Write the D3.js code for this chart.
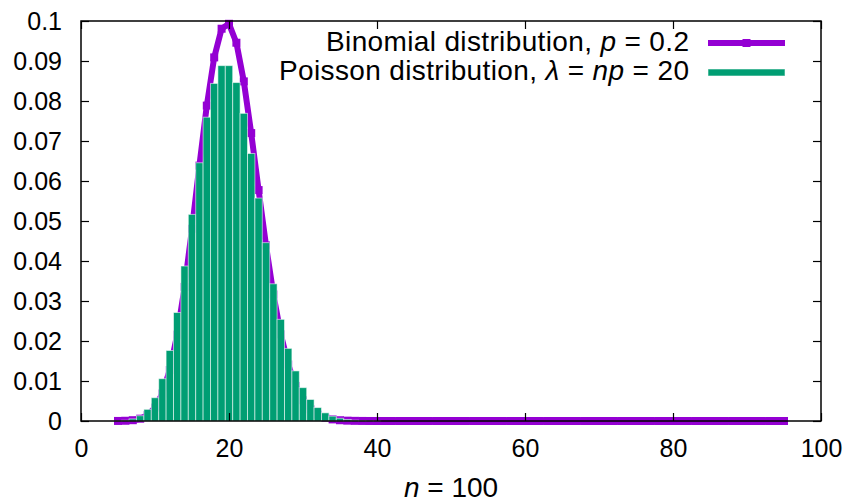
<!DOCTYPE html>
<html><head><meta charset="utf-8">
<script src="https://cdn.jsdelivr.net/npm/d3@7"></script>
<style>
html,body{margin:0;padding:0;background:#fff;}
svg{display:block;font-family:"Liberation Sans",Arial,sans-serif;}
</style></head>
<body><svg id="c" width="844" height="504"></svg>
<script>
// ---- data ----
const binomK0 = 5; // first k of binomial series
const binomial = [0.0000150,0.0000593,0.000199,0.000578,0.00148,0.00336,0.00688,0.01275,0.02158,0.03353,
  0.04806,0.06383,0.07885,0.09090,0.09807,0.09930,0.09457,0.08490,0.07198,0.05773,
  0.04388,0.03164,0.02168,0.01413,0.00877,0.00519,0.00293,0.00158,0.000814,0.000401,
  0.000189,0.0000853,0.0000369,0.0000153,0.0000061,0.0000023,0.0000008,0.0000003,0,0,
  0,0,0,0,0,0,0,0,0,0, 0,0,0,0,0,0,0,0,0,0, 0,0,0,0,0,0,0,0,0,0, 0,0,0,0,0,0,0,0,0,0, 0,0,0,0,0,0,0,0,0,0, 0];
const poissonK0 = 5;
const poisson = [0.000055,0.000183,0.000523,0.00131,0.00291,0.00582,0.01058,0.01763,0.02712,0.03874,
  0.05165,0.06456,0.07595,0.08439,0.08884,0.08884,0.08461,0.07691,0.06688,0.05573,
  0.04459,0.03430,0.02541,0.01815,0.01252,0.00834,0.00538,0.00336,0.00204,0.00120,
  0.000685,0.000381,0.000206,0.000108,0.0000556,0.0000278];
const xTicks = [0,20,40,60,80,100];
const yTicks = [0,0.01,0.02,0.03,0.04,0.05,0.06,0.07,0.08,0.09,0.1];
const xDomain = [0,100];
const yDomain = [0,0.1];

// ---- layout ----
const L=81, R=821, T=21, B=421;
const purple="#9400d3", green="#009e73";
const svg=d3.select("#c");
const x=d3.scaleLinear().domain(xDomain).range([L,R]);
const y=d3.scaleLinear().domain(yDomain).range([B,T]);

const bData = binomial.map((v,i)=>({k:binomK0+i,v}));
const pData = poisson.map((v,i)=>({k:poissonK0+i,v}));

// binomial line + points
svg.append("path").datum(bData)
  .attr("d",d3.line().x(d=>x(d.k)).y(d=>y(d.v)))
  .attr("fill","none").attr("stroke",purple).attr("stroke-width",6).attr("stroke-linejoin","round");
svg.append("g").selectAll("rect").data(bData).join("rect")
  .attr("x",d=>x(d.k)-4).attr("y",d=>y(d.v)-4).attr("width",8).attr("height",8)
  .attr("fill",purple);

// poisson bars
const bw = x(1)-x(0);
svg.append("g").selectAll("rect").data(pData).join("rect")
  .attr("x",d=>x(d.k-0.5)).attr("y",d=>y(d.v)).attr("width",bw).attr("height",d=>y(0)-y(d.v))
  .attr("fill",green).attr("stroke","rgba(255,255,255,0.55)").attr("stroke-width",1);

// axes
const fmtY = d=> d===0 ? "0" : String(+d.toFixed(2));
const fs = 25;
const gl=svg.append("g").attr("transform",`translate(${L},0)`)
  .call(d3.axisLeft(y).tickValues(yTicks).tickSize(-8).tickPadding(19).tickFormat(fmtY));
const gb=svg.append("g").attr("transform",`translate(0,${B})`)
  .call(d3.axisBottom(x).tickValues(xTicks).tickSize(-8).tickPadding(18).tickFormat(d3.format("d")));
const gr=svg.append("g").attr("transform",`translate(${R},0)`)
  .call(d3.axisRight(y).tickValues(yTicks).tickSize(-8).tickFormat(""));
const gt=svg.append("g").attr("transform",`translate(0,${T})`)
  .call(d3.axisTop(x).tickValues(xTicks).tickSize(-8).tickFormat(""));
[gl,gb,gr,gt].forEach(g=>{
  g.select(".domain").remove();
  g.selectAll("line").attr("stroke","#000").attr("stroke-width",1.2);
  g.selectAll("text").attr("font-size",fs).attr("font-family","Liberation Sans, Arial, sans-serif").attr("fill","#000");
});
svg.append("rect").attr("x",L).attr("y",T).attr("width",R-L).attr("height",B-T)
  .attr("fill","none").attr("stroke","#000").attr("stroke-width",1.5);

// x label
const xl=svg.append("text").attr("x",451).attr("y",497).attr("text-anchor","middle").attr("font-size",28);
xl.append("tspan").attr("font-style","italic").text("n");
xl.append("tspan").text(" = 100");

// legend
const lf=28, lx=689, lx0=708, lx1=785;
const t1=svg.append("text").attr("x",lx).attr("y",51).attr("text-anchor","end").attr("font-size",lf)
  .attr("textLength",363).attr("lengthAdjust","spacing");
t1.append("tspan").text("Binomial distribution, ");
t1.append("tspan").attr("font-style","italic").text("p");
t1.append("tspan").text(" = 0.2");
const t2=svg.append("text").attr("x",lx).attr("y",80).attr("text-anchor","end").attr("font-size",lf)
  .attr("textLength",410).attr("lengthAdjust","spacing");
t2.append("tspan").text("Poisson distribution, ");
t2.append("tspan").attr("font-style","italic").text("λ");
t2.append("tspan").text(" = ");
t2.append("tspan").attr("font-style","italic").text("np");
t2.append("tspan").text(" = 20");
svg.append("line").attr("x1",lx0).attr("x2",lx1).attr("y1",43).attr("y2",43)
  .attr("stroke",purple).attr("stroke-width",6);
svg.append("rect").attr("x",(lx0+lx1)/2-4).attr("y",39).attr("width",8).attr("height",8).attr("fill",purple);
svg.append("rect").attr("x",lx0).attr("y",69).attr("width",lx1-lx0).attr("height",7)
  .attr("fill",green).attr("stroke","rgba(255,255,255,0.55)").attr("stroke-width",1);
</script></body></html>
